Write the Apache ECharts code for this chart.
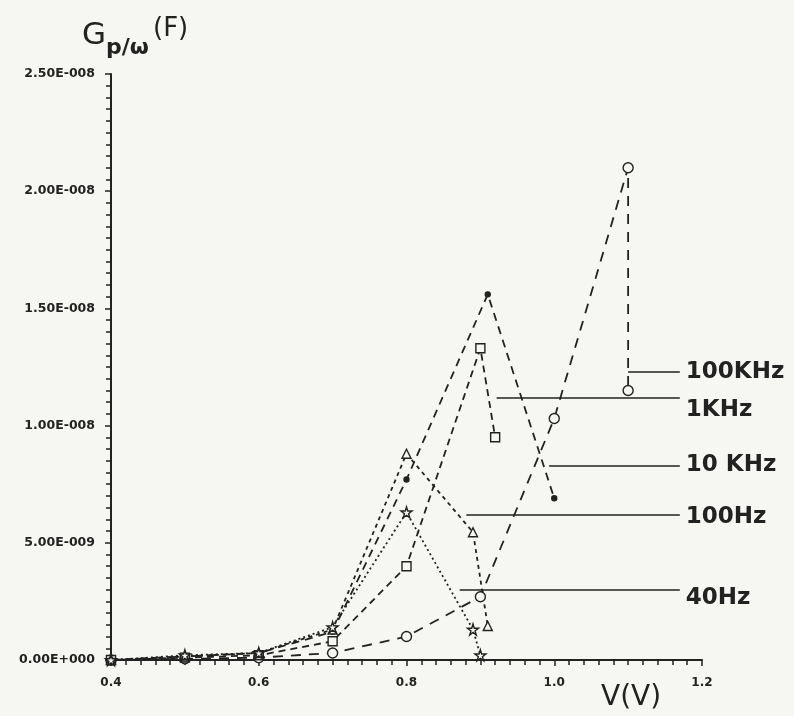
<!DOCTYPE html>
<html>
<head>
<meta charset="utf-8">
<script src="https://cdn.jsdelivr.net/npm/echarts@6/dist/echarts.min.js"></script>
<style>
html,body{margin:0;padding:0;background:#f6f6f2;}
#chart{width:794px;height:716px;}
</style>
</head>
<body>
<div id="chart"></div>
<script>
// ---- data (V in volts, Gp/w in farads) ----
const seriesNames = ['100KHz', '1KHz', '10 KHz', '100Hz', '40Hz'];

const v100k = [0.4, 0.5, 0.6, 0.7, 0.8, 0.9, 1.0, 1.1, 1.1];
const g100k = [0, 0.005e-8, 0.01e-8, 0.03e-8, 0.10e-8, 0.27e-8, 1.03e-8, 2.10e-8, 1.15e-8];

const v1k = [0.4, 0.5, 0.6, 0.7, 0.8, 0.9, 0.92];
const g1k = [0, 0.01e-8, 0.02e-8, 0.08e-8, 0.40e-8, 1.33e-8, 0.95e-8];

const v10k = [0.4, 0.5, 0.6, 0.7, 0.8, 0.91, 1.0];
const g10k = [0, 0.015e-8, 0.03e-8, 0.12e-8, 0.77e-8, 1.56e-8, 0.69e-8];

const v100 = [0.4, 0.5, 0.6, 0.7, 0.8, 0.89, 0.91];
const g100 = [0, 0.015e-8, 0.03e-8, 0.13e-8, 0.88e-8, 0.545e-8, 0.145e-8];

const v40 = [0.4, 0.5, 0.6, 0.7, 0.8, 0.89, 0.9];
const g40 = [0, 0.02e-8, 0.03e-8, 0.14e-8, 0.63e-8, 0.13e-8, 0.02e-8];

// label leader lines: [x start, x end, y level]
const leader100k = [1.10, 1.17, 1.23e-8];
const leader1k   = [0.922, 1.17, 1.12e-8];
const leader10k  = [0.993, 1.17, 0.83e-8];
const leader100  = [0.881, 1.17, 0.62e-8];
const leader40   = [0.872, 1.17, 0.30e-8];

const xTicks = [0.4, 0.6, 0.8, 1.0, 1.2];
const yTicks = [0, 0.5e-8, 1.0e-8, 1.5e-8, 2.0e-8, 2.5e-8];

// ---- helpers ----
const INK = '#222';
const BG = '#f6f6f2';
const STAR = 'path://M50,0 L61,35 L98,35 L68,57 L79,91 L50,70 L21,91 L32,57 L2,35 L39,35 Z';

function pairs(xs, ys) { return xs.map((x, i) => [x, ys[i]]); }

function fmtSci(v) {
  if (Math.abs(v) < 1e-15) return '0.00E+000';
  const e = Math.floor(Math.log10(v) + 1e-9);
  const m = v / Math.pow(10, e);
  const sign = e < 0 ? '-' : '+';
  return m.toFixed(2) + 'E' + sign + String(Math.abs(e)).padStart(3, '0');
}

// shift: vertical offset (px, downward) of the label text relative to its leader line
function leader(name, l, shift) {
  return {
    silent: true,
    symbol: ['none', 'none'],
    animation: false,
    lineStyle: { color: INK, width: 1.6, type: 'solid' },
    label: {
      show: true, position: 'end', distance: 6,
      formatter: shift > 0 ? '\n' + name : name, color: INK,
      fontFamily: 'DejaVu Sans', fontWeight: 'bold', fontSize: 23,
      lineHeight: shift > 0 ? shift * 2 : 26
    },
    data: [[{ coord: [l[0], l[2]] }, { coord: [l[1], l[2]] }]]
  };
}

function mkSeries(name, xs, ys, symbol, size, filled, dash, ld, shift) {
  return {
    name: name, type: 'line', data: pairs(xs, ys),
    symbol: symbol, symbolSize: size, showAllSymbol: true,
    lineStyle: { color: INK, width: 1.8, type: dash },
    itemStyle: { color: filled ? INK : BG, borderColor: INK, borderWidth: 1.4 },
    animation: false, z: 3,
    markLine: leader(name, ld, shift)
  };
}

const chart = echarts.init(document.getElementById('chart'), null, { renderer: 'canvas' });
chart.setOption({
  backgroundColor: BG,
  animation: false,
  grid: { left: 111, right: 92, top: 74, bottom: 56, containLabel: false },
  xAxis: {
    type: 'value', min: xTicks[0], max: xTicks[xTicks.length - 1], interval: 0.2,
    axisLine: { show: true, onZero: false, lineStyle: { color: INK, width: 2 } },
    axisTick: { show: true, inside: false, length: 6, lineStyle: { color: INK, width: 1.5 } },
    minorTick: { show: true, splitNumber: 10, length: 5, lineStyle: { color: INK, width: 1.5 } },
    splitLine: { show: false },
    axisLabel: {
      color: INK, fontFamily: 'DejaVu Sans', fontWeight: 'bold', fontSize: 12, margin: 17,
      formatter: v => v.toFixed(1)
    }
  },
  yAxis: {
    type: 'value', min: yTicks[0], max: yTicks[yTicks.length - 1], interval: 0.5e-8,
    axisLine: { show: true, onZero: false, lineStyle: { color: INK, width: 2 } },
    axisTick: { show: true, inside: false, length: 6, lineStyle: { color: INK, width: 1.5 } },
    minorTick: { show: true, splitNumber: 10, length: 5, lineStyle: { color: INK, width: 1.5 } },
    splitLine: { show: false },
    axisLabel: {
      color: INK, fontFamily: 'DejaVu Sans', fontWeight: 'bold', fontSize: 12.5, margin: 16,
      formatter: v => fmtSci(v)
    }
  },
  graphic: [
    { type: 'text', left: 82, top: 20, style: { text: 'G', fontFamily: 'DejaVu Sans', fontSize: 31, fill: INK } },
    { type: 'text', left: 106, top: 37, style: { text: 'p/ω', fontFamily: 'DejaVu Sans', fontWeight: 'bold', fontSize: 22, fill: INK } },
    { type: 'text', left: 153, top: 16, style: { text: '(F)', fontFamily: 'DejaVu Sans', fontSize: 26, fill: INK } },
    { type: 'text', left: 601, top: 684, style: { text: 'V(V)', fontFamily: 'DejaVu Sans', fontSize: 28, fill: INK } }
  ],
  series: [
    mkSeries(seriesNames[0], v100k, g100k, 'circle', 10, false, [10, 8], leader100k, 0),
    mkSeries(seriesNames[1], v1k, g1k, 'rect', 9, false, [7, 5], leader1k, 13),
    mkSeries(seriesNames[2], v10k, g10k, 'circle', 5, true, [8, 6], leader10k, 0),
    mkSeries(seriesNames[3], v100, g100, 'triangle', 9, false, [4, 4], leader100, 2),
    mkSeries(seriesNames[4], v40, g40, STAR, 11, false, [2, 3], leader40, 8)
  ]
});
</script>
</body>
</html>
